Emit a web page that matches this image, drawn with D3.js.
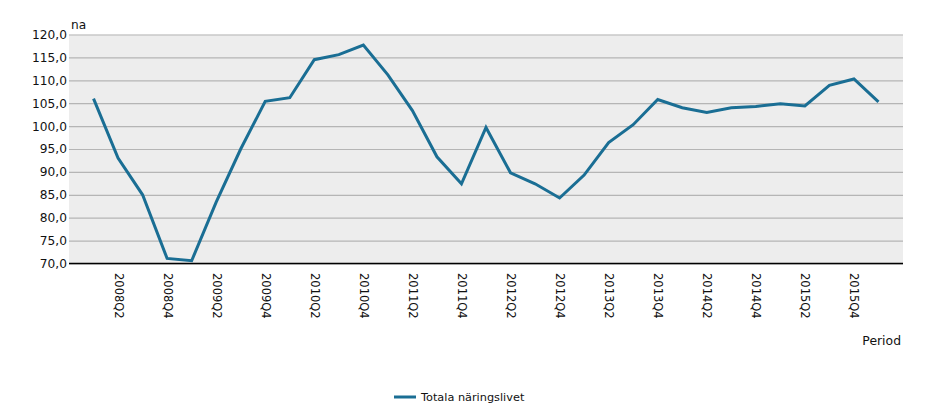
<!DOCTYPE html>
<html>
<head>
<meta charset="utf-8">
<script src="https://cdn.jsdelivr.net/npm/d3@7"></script>
<style>
  html, body { margin: 0; padding: 0; background: #ffffff; }
  svg { display: block; font-family: "DejaVu Sans", Verdana, sans-serif; }
</style>
</head>
<body>
<svg id="chart" width="937" height="406"></svg>
<script>
const periods = ["2008Q1","2008Q2","2008Q3","2008Q4","2009Q1","2009Q2","2009Q3","2009Q4",
  "2010Q1","2010Q2","2010Q3","2010Q4","2011Q1","2011Q2","2011Q3","2011Q4",
  "2012Q1","2012Q2","2012Q3","2012Q4","2013Q1","2013Q2","2013Q3","2013Q4",
  "2014Q1","2014Q2","2014Q3","2014Q4","2015Q1","2015Q2","2015Q3","2015Q4","2016Q1"];
const values = [106.0, 93.0, 85.0, 71.1, 70.6, 83.4, 95.0, 105.4,
  106.2, 114.5, 115.6, 117.7, 111.2, 103.4, 93.3, 87.4,
  99.7, 89.8, 87.4, 84.3, 89.3, 96.4, 100.3, 105.8,
  104.0, 103.0, 104.0, 104.3, 104.9, 104.4, 108.9, 110.3, 105.3];
const tickLabels = ["2008Q2","2008Q4","2009Q2","2009Q4","2010Q2","2010Q4","2011Q2","2011Q4",
  "2012Q2","2012Q4","2013Q2","2013Q4","2014Q2","2014Q4","2015Q2","2015Q4"];
const yTicks = [70, 75, 80, 85, 90, 95, 100, 105, 110, 115, 120];
const seriesName = "Totala näringslivet";
const yUnit = "na";
const xTitle = "Period";

const svg = d3.select("#chart");
const pLeft = 69, pRight = 903, pTop = 34.5, pBottom = 263.5;
const lineColor = "#1a6e94";

const x = d3.scalePoint().domain(periods).range([pLeft, pRight]).padding(1);
const y = d3.scaleLinear().domain([70, 120]).range([pBottom, pTop]);

// plot background
svg.append("rect").attr("x", pLeft).attr("y", pTop).attr("width", pRight - pLeft).attr("height", pBottom - pTop)
  .attr("fill", "#ededed");

// grid + y labels
const fmt = v => d3.format(".1f")(v).replace(".", ",");
const yAxis = d3.axisLeft(y).tickValues(yTicks).tickSize(-(pRight - pLeft)).tickFormat(fmt).tickPadding(2);
const gy = svg.append("g").attr("transform", `translate(${pLeft},0)`).call(yAxis);
gy.select(".domain").remove();
gy.selectAll(".tick line").attr("stroke", "#b5b5b5").attr("stroke-width", 1.2);
gy.selectAll(".tick text").attr("font-size", 12.2).attr("fill", "#111").attr("font-family", "DejaVu Sans, Verdana, sans-serif");

// x axis
const xAxis = d3.axisBottom(x).tickValues(tickLabels).tickSize(0).tickPadding(0);
const gx = svg.append("g").attr("transform", `translate(0,${pBottom})`).call(xAxis);
gx.select(".domain").attr("stroke", "#000").attr("stroke-width", 1.3).attr("d", `M${pLeft},0H${pRight}`);
gx.selectAll(".tick text")
  .attr("font-size", 11.5).attr("fill", "#111").attr("font-family", "DejaVu Sans, Verdana, sans-serif")
  .attr("text-anchor", "start")
  .attr("transform", "translate(0,9.5) rotate(90)")
  .attr("x", 0).attr("y", 0).attr("dy", "0.35em");

// line
const line = d3.line().x((d, i) => x(periods[i])).y(d => y(d));
svg.append("path").datum(values).attr("d", line)
  .attr("fill", "none").attr("stroke", lineColor).attr("stroke-width", 3)
  .attr("stroke-linejoin", "miter");

// unit label
svg.append("text").attr("x", 71).attr("y", 29).attr("font-size", 12.2).attr("fill", "#111").text(yUnit);
// x title
svg.append("text").attr("x", 901).attr("y", 345).attr("font-size", 12.4).attr("fill", "#111")
  .attr("text-anchor", "end").text(xTitle);

// legend
svg.append("line").attr("x1", 394).attr("x2", 416).attr("y1", 397).attr("y2", 397)
  .attr("stroke", lineColor).attr("stroke-width", 3);
svg.append("text").attr("x", 421).attr("y", 401).attr("font-size", 11.3).attr("fill", "#111").text(seriesName);
</script>
</body>
</html>
